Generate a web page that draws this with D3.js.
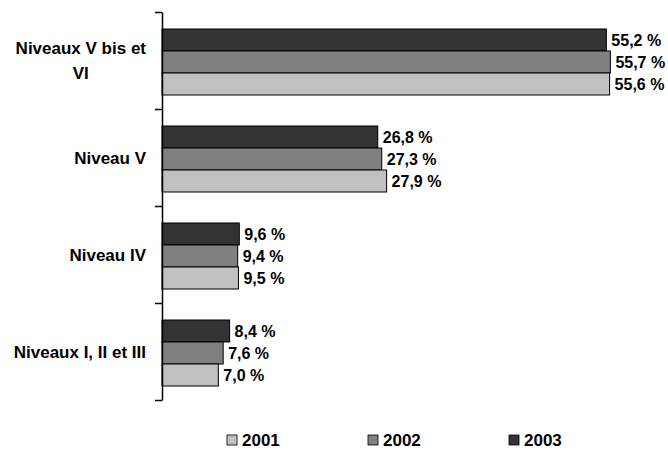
<!DOCTYPE html>
<html>
<head>
<meta charset="utf-8">
<script src="https://cdn.jsdelivr.net/npm/d3@7"></script>
<style>
  body { margin: 0; background: #fff; overflow: hidden; }
  svg { display: block; }
  text { font-family: "Liberation Sans", Arial, sans-serif; font-weight: bold; fill: #000; }
</style>
</head>
<body>
<div id="chart"></div>
<script>
// categories, top to bottom
var categories = ["Niveaux V bis et VI", "Niveau V", "Niveau IV", "Niveaux I, II et III"];
// label lines as wrapped in the original
var catLines = [["Niveaux V bis et", "VI"], ["Niveau V"], ["Niveau IV"], ["Niveaux I, II et III"]];
var years = ["2003", "2002", "2001"]; // order inside a group, top to bottom
var legendYears = ["2001", "2002", "2003"];
var values2001 = [55.6, 27.9, 9.5, 7.0];
var values2002 = [55.7, 27.3, 9.4, 7.6];
var values2003 = [55.2, 26.8, 9.6, 8.4];
var colors = {"2001": "#c0c0c0", "2002": "#808080", "2003": "#333333"};

var series = {"2001": values2001, "2002": values2002, "2003": values2003};

var width = 668, height = 451;
var svg = d3.select("#chart").append("svg")
    .attr("width", width)
    .attr("height", height);

var axisX = 162, plotTop = 12, plotBottom = 400;

var x = d3.scaleLinear().domain([0, 60]).range([axisX, axisX + 483]);
var y0 = d3.scaleBand().domain(categories).range([plotTop, plotBottom]);
var y1 = d3.scaleBand().domain(years).range([17, 83]);

// bars
var groups = svg.selectAll(".grp")
    .data(categories)
    .enter().append("g")
      .attr("class", "grp")
      .attr("transform", function(d) { return "translate(0," + y0(d) + ")"; });

groups.selectAll("rect")
    .data(function(d, i) { return years.map(function(yr) { return {year: yr, value: series[yr][i]}; }); })
    .enter().append("rect")
      .attr("x", x(0))
      .attr("y", function(d) { return y1(d.year); })
      .attr("width", function(d) { return x(d.value) - x(0); })
      .attr("height", y1.bandwidth())
      .style("fill", function(d) { return colors[d.year]; })
      .style("stroke", "#000")
      .style("stroke-width", 1);

groups.selectAll(".val")
    .data(function(d, i) { return years.map(function(yr) { return {year: yr, value: series[yr][i]}; }); })
    .enter().append("text")
      .attr("class", "val")
      .attr("x", function(d) { return x(d.value) + 5; })
      .attr("y", function(d) { return y1(d.year) + y1.bandwidth() / 2; })
      .attr("dy", "0.36em")
      .style("font-size", "16px")
      .text(function(d) { return d.value.toFixed(1).replace(".", ",") + " %"; });

// axis with ticks on band edges
var yEdge = d3.scaleLinear().domain([0, categories.length]).range([plotTop, plotBottom]);
var axis = svg.append("g")
    .attr("transform", "translate(" + axisX + ",0)")
    .call(d3.axisLeft(yEdge).ticks(categories.length).tickFormat("").tickSizeInner(7).tickSizeOuter(0));
axis.select(".domain").attr("stroke", "#000").attr("stroke-width", 1.5);
axis.selectAll(".tick line").attr("stroke", "#000").attr("stroke-width", 1.5);

// category labels: block right aligned, lines centred in block
var labelRight = 146, lineGap = 25.5;
categories.forEach(function(c, i) {
    var lines = catLines[i];
    var g = svg.append("g");
    var cy = y0(c) + y0.bandwidth() / 2;
    var texts = g.selectAll("text").data(lines).enter().append("text")
        .attr("y", function(d, j) { return cy + (j - (lines.length - 1) / 2) * lineGap; })
        .attr("dy", "0.36em")
        .attr("text-anchor", "middle")
        .style("font-size", "17px")
        .text(function(d) { return d; });
    var maxW = 0;
    texts.each(function() { maxW = Math.max(maxW, this.getComputedTextLength()); });
    texts.attr("x", labelRight - maxW / 2);
});

// legend
var legend = svg.selectAll(".leg")
    .data(legendYears)
    .enter().append("g")
      .attr("class", "leg")
      .attr("transform", function(d, i) { return "translate(" + (227 + i * 141) + ",435)"; });

legend.append("rect")
    .attr("width", 10)
    .attr("height", 10)
    .style("fill", function(d) { return colors[d]; })
    .style("stroke", "#000")
    .style("stroke-width", 0.8);

legend.append("text")
    .attr("x", 15)
    .attr("y", 11)
    .style("font-size", "17px")
    .text(function(d) { return d; });
</script>
</body>
</html>
